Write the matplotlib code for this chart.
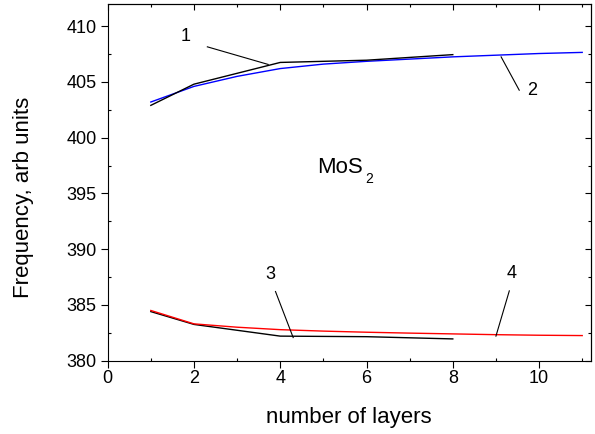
import matplotlib
matplotlib.use('Agg')
import matplotlib.pyplot as plt
from matplotlib.ticker import MultipleLocator

plt.rcParams['font.family'] = ['Liberation Sans', 'DejaVu Sans']
plt.rcParams['font.size'] = 13

# upper pair (black 1, blue 2) and lower pair (black 3, red 4)
layers_a = [1, 2, 4, 6, 8]
freq1 = [402.9, 404.8, 406.75, 406.95, 407.45]
freq3 = [384.4, 383.25, 382.2, 382.15, 381.95]

layers_b = [1, 2, 3, 4, 5, 6, 7, 8, 9, 10, 11]
freq2 = [403.2, 404.6, 405.5, 406.2, 406.6, 406.85, 407.05, 407.25, 407.4, 407.55, 407.65]
freq4 = [384.5, 383.3, 383.0, 382.78, 382.65, 382.55, 382.47, 382.4, 382.33, 382.28, 382.25]

fig = plt.figure(figsize=(5.95, 4.34), dpi=100)
ax = fig.add_axes([0.181, 0.169, 0.812, 0.822])

ax.plot(layers_b, freq2, color='blue', lw=1.0)
ax.plot(layers_a, freq1, color='black', lw=1.0)
ax.plot(layers_a, freq3, color='black', lw=1.0)
ax.plot(layers_b, freq4, color='red', lw=1.0)

# curve labels with leader lines
ax.plot([2.31, 3.72], [408.15, 406.57], color='black', lw=0.8)
ax.text(1.80, 409.1, '1', ha='center', va='center')
ax.plot([9.12, 9.54], [407.25, 404.26], color='black', lw=0.8)
ax.text(9.85, 404.2, '2', ha='center', va='center')
ax.plot([3.89, 4.30], [386.2, 382.07], color='black', lw=0.8)
ax.text(3.76, 387.7, '3', ha='center', va='center')
ax.plot([9.31, 9.0], [386.26, 382.2], color='black', lw=0.8)
ax.text(9.36, 387.8, '4', ha='center', va='center')

ax.text(4.85, 396.8, 'MoS', ha='left', va='baseline', fontsize=16)
ax.text(5.98, 395.95, '2', ha='left', va='baseline', fontsize=10)

ax.set_xlim(0, 11.2)
ax.set_ylim(380, 412)
ax.xaxis.set_major_locator(MultipleLocator(2))
ax.xaxis.set_minor_locator(MultipleLocator(1))
ax.yaxis.set_major_locator(MultipleLocator(5))
ax.yaxis.set_minor_locator(MultipleLocator(2.5))
ax.tick_params(which='major', direction='out', length=5, width=0.8, pad=2)
ax.tick_params(which='minor', direction='in', length=2.5, width=0.8)
ax.tick_params(axis='y', which='major', pad=3)

top = ax.secondary_xaxis('top')
top.xaxis.set_major_locator(MultipleLocator(2))
top.xaxis.set_minor_locator(MultipleLocator(1))
top.tick_params(which='major', direction='in', length=4.5, width=0.8, labeltop=False)
top.tick_params(which='minor', direction='in', length=2.5, width=0.8)
right = ax.secondary_yaxis('right')
right.yaxis.set_major_locator(MultipleLocator(5))
right.yaxis.set_minor_locator(MultipleLocator(2.5))
right.tick_params(which='major', direction='in', length=4.5, width=0.8, labelright=False)
right.tick_params(which='minor', direction='in', length=2.5, width=0.8)

fig.text(24 / 595, 1 - 197.5 / 434, 'Frequency, arb units', rotation=90,
         ha='center', va='center', fontsize=16)
fig.text(349 / 595, 1 - 418 / 434, 'number of layers', ha='center', va='center',
         fontsize=16)

fig.savefig('out.png', dpi=100)
